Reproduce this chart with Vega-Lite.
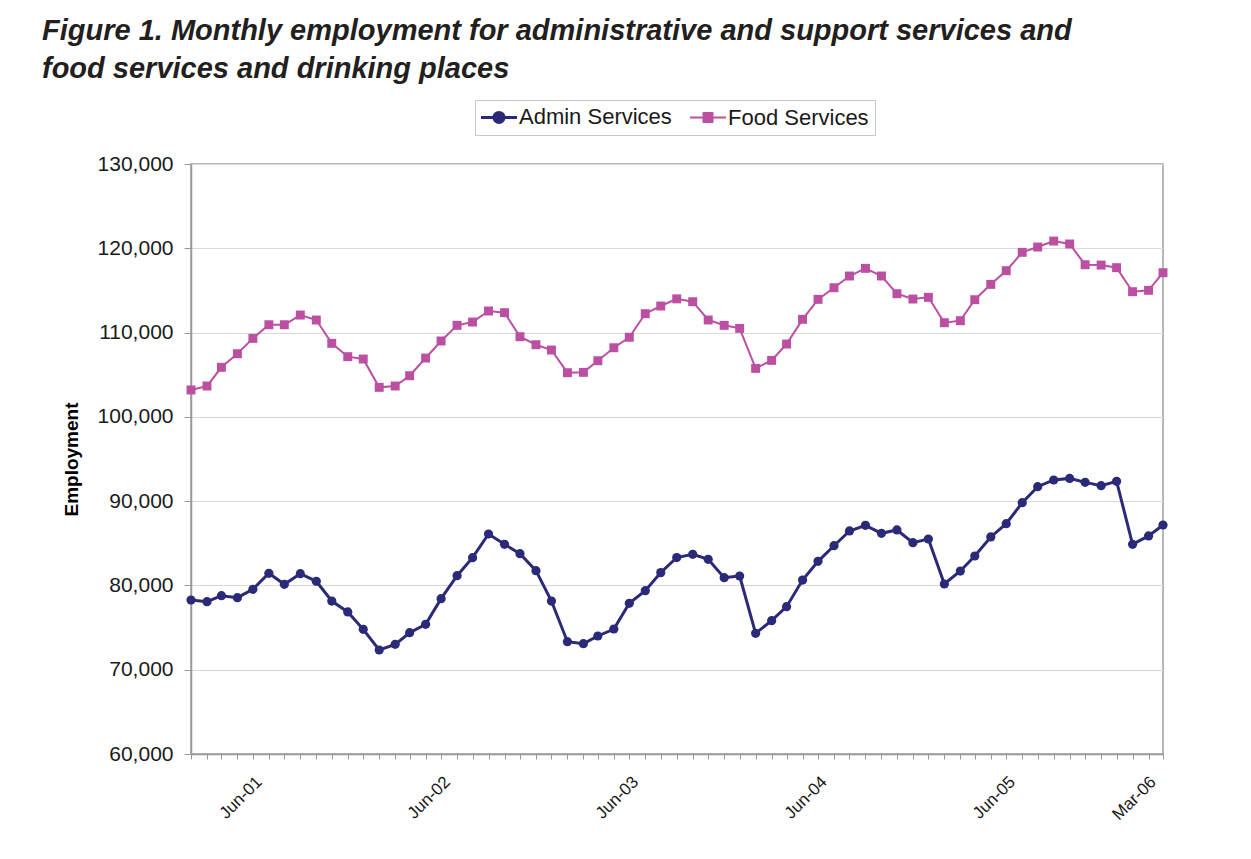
{
  "$schema": "https://vega.github.io/schema/vega-lite/v6.json",
  "width": 972,
  "height": 590,
  "autosize": {"type": "none"},
  "padding": {"left": 191, "top": 164, "right": 88, "bottom": 105},
  "background": "white",
  "title": {
    "text": ["Figure 1. Monthly employment for administrative and support services and", "food services and drinking places"],
    "anchor": "start", "frame": "group", "dx": -149, "offset": 16,
    "font": "Liberation Sans", "fontSize": 29, "fontStyle": "italic", "fontWeight": "bold",
    "color": "#231f20", "lineHeight": 38
  },
  "datasets": {
    "admin": [
      {"date":"2001-01-01","value":78270},{"date":"2001-02-01","value":78070},{"date":"2001-03-01","value":78780},{"date":"2001-04-01","value":78550},{"date":"2001-05-01","value":79540},{"date":"2001-06-01","value":81440},{"date":"2001-07-01","value":80130},{"date":"2001-08-01","value":81390},{"date":"2001-09-01","value":80490},{"date":"2001-10-01","value":78150},{"date":"2001-11-01","value":76850},{"date":"2001-12-01","value":74790},
      {"date":"2002-01-01","value":72340},{"date":"2002-02-01","value":73010},{"date":"2002-03-01","value":74390},{"date":"2002-04-01","value":75390},{"date":"2002-05-01","value":78430},{"date":"2002-06-01","value":81160},{"date":"2002-07-01","value":83290},{"date":"2002-08-01","value":86100},{"date":"2002-09-01","value":84880},{"date":"2002-10-01","value":83770},{"date":"2002-11-01","value":81750},{"date":"2002-12-01","value":78150},
      {"date":"2003-01-01","value":73320},{"date":"2003-02-01","value":73090},{"date":"2003-03-01","value":74000},{"date":"2003-04-01","value":74830},{"date":"2003-05-01","value":77880},{"date":"2003-06-01","value":79380},{"date":"2003-07-01","value":81520},{"date":"2003-08-01","value":83310},{"date":"2003-09-01","value":83690},{"date":"2003-10-01","value":83100},{"date":"2003-11-01","value":80920},{"date":"2003-12-01","value":81120},
      {"date":"2004-01-01","value":74320},{"date":"2004-02-01","value":75820},{"date":"2004-03-01","value":77480},{"date":"2004-04-01","value":80640},{"date":"2004-05-01","value":82860},{"date":"2004-06-01","value":84710},{"date":"2004-07-01","value":86460},{"date":"2004-08-01","value":87130},{"date":"2004-09-01","value":86180},{"date":"2004-10-01","value":86580},{"date":"2004-11-01","value":85070},{"date":"2004-12-01","value":85510},
      {"date":"2005-01-01","value":80170},{"date":"2005-02-01","value":81710},{"date":"2005-03-01","value":83490},{"date":"2005-04-01","value":85750},{"date":"2005-05-01","value":87320},{"date":"2005-06-01","value":89820},{"date":"2005-07-01","value":91710},{"date":"2005-08-01","value":92510},{"date":"2005-09-01","value":92700},{"date":"2005-10-01","value":92230},{"date":"2005-11-01","value":91830},{"date":"2005-12-01","value":92350},
      {"date":"2006-01-01","value":84880},{"date":"2006-02-01","value":85870},{"date":"2006-03-01","value":87170}
    ],
    "food": [
      {"date":"2001-01-01","value":103190},{"date":"2001-02-01","value":103660},{"date":"2001-03-01","value":105880},{"date":"2001-04-01","value":107490},{"date":"2001-05-01","value":109310},{"date":"2001-06-01","value":110930},{"date":"2001-07-01","value":110930},{"date":"2001-08-01","value":112080},{"date":"2001-09-01","value":111490},{"date":"2001-10-01","value":108720},{"date":"2001-11-01","value":107140},{"date":"2001-12-01","value":106860},
      {"date":"2002-01-01","value":103500},{"date":"2002-02-01","value":103660},{"date":"2002-03-01","value":104880},{"date":"2002-04-01","value":106980},{"date":"2002-05-01","value":109000},{"date":"2002-06-01","value":110860},{"date":"2002-07-01","value":111250},{"date":"2002-08-01","value":112560},{"date":"2002-09-01","value":112360},{"date":"2002-10-01","value":109510},{"date":"2002-11-01","value":108560},{"date":"2002-12-01","value":107930},
      {"date":"2003-01-01","value":105240},{"date":"2003-02-01","value":105280},{"date":"2003-03-01","value":106660},{"date":"2003-04-01","value":108200},{"date":"2003-05-01","value":109440},{"date":"2003-06-01","value":112240},{"date":"2003-07-01","value":113150},{"date":"2003-08-01","value":114000},{"date":"2003-09-01","value":113660},{"date":"2003-10-01","value":111490},{"date":"2003-11-01","value":110860},{"date":"2003-12-01","value":110500},
      {"date":"2004-01-01","value":105750},{"date":"2004-02-01","value":106700},{"date":"2004-03-01","value":108640},{"date":"2004-04-01","value":111570},{"date":"2004-05-01","value":113940},{"date":"2004-06-01","value":115320},{"date":"2004-07-01","value":116710},{"date":"2004-08-01","value":117620},{"date":"2004-09-01","value":116710},{"date":"2004-10-01","value":114610},{"date":"2004-11-01","value":113980},{"date":"2004-12-01","value":114180},
      {"date":"2005-01-01","value":111170},{"date":"2005-02-01","value":111410},{"date":"2005-03-01","value":113900},{"date":"2005-04-01","value":115720},{"date":"2005-05-01","value":117340},{"date":"2005-06-01","value":119520},{"date":"2005-07-01","value":120150},{"date":"2005-08-01","value":120860},{"date":"2005-09-01","value":120510},{"date":"2005-10-01","value":118050},{"date":"2005-11-01","value":118010},{"date":"2005-12-01","value":117700},
      {"date":"2006-01-01","value":114850},{"date":"2006-02-01","value":115010},{"date":"2006-03-01","value":117100}
    ]
  },
  "encoding": {
    "x": {
      "field": "date", "type": "temporal",
      "scale": {"type": "utc", "domain": [{"year": 2001, "month": 1, "date": 1, "utc": true}, {"year": 2006, "month": 3, "date": 1, "utc": true}]},
      "axis": {
        "title": null, "grid": false,
        "tickCount": {"interval": "month", "step": 1},
        "labelExpr": "(utcmonth(datum.value) == 5 || (utcyear(datum.value) == 2006 && utcmonth(datum.value) == 2)) ? utcFormat(datum.value, '%b-%y') : ''",
        "labelAngle": -45, "labelAlign": "right", "labelBaseline": "middle",
        "labelFont": "Liberation Sans", "labelFontSize": 17, "labelColor": "#1a1a1a",
        "labelPadding": 20, "labelOffset": -10, "labelOverlap": false, "labelBound": false, "labelFlush": false,
        "tickSize": 5, "tickColor": "#999999", "domainColor": "#999999", "domainWidth": 1.5
      }
    },
    "y": {
      "field": "value", "type": "quantitative",
      "scale": {"domain": [60000, 130000], "zero": false, "nice": false},
      "axis": {
        "title": "Employment", "titleFont": "Liberation Sans", "titleFontSize": 19, "titleFontWeight": "bold", "titleColor": "#000000", "titlePadding": 16,
        "values": [60000, 70000, 80000, 90000, 100000, 110000, 120000, 130000],
        "format": ",.0f", "labelFont": "Liberation Sans", "labelFontSize": 21, "labelColor": "#1a1a1a", "labelPadding": 11,
        "tickSize": 7, "tickColor": "#999999", "domainColor": "#999999", "domainWidth": 1.5,
        "grid": true, "gridColor": "#d9d9d9", "gridWidth": 1.2
      }
    },
    "color": {
      "field": "series", "type": "nominal",
      "scale": {"domain": ["Admin Services", "Food Services"], "range": ["#2a2a78", "#bb4fa2"]},
      "legend": {
        "title": null, "orient": "none", "legendX": 284, "legendY": -64, "direction": "horizontal",
        "strokeColor": "#c8c8c8", "padding": 6,
        "labelFont": "Liberation Sans", "labelFontSize": 22, "labelColor": "#1a1a1a", "labelOffset": 9,
        "symbolSize": 1296, "symbolOffset": 7, "columnPadding": 14,
        "encode": {
          "symbols": {
            "update": {
              "shape": {"signal": "datum.value === 'Admin Services' ? 'M-1,0L1,0M-0.28,0A0.28,0.28 0 1 0 0.28,0A0.28,0.28 0 1 0 -0.28,0Z' : 'M-1,0L1,0M-0.25,-0.25L0.25,-0.25L0.25,0.25L-0.25,0.25Z'"},
              "fill": {"signal": "datum.value === 'Admin Services' ? '#2a2a78' : '#bb4fa2'"},
              "stroke": {"signal": "datum.value === 'Admin Services' ? '#2a2a78' : '#bb4fa2'"},
              "strokeWidth": {"signal": "datum.value === 'Admin Services' ? 3 : 2"},
              "opacity": {"value": 1}
            }
          }
        }
      }
    }
  },
  "layer": [
    {
      "data": {"name": "admin"},
      "transform": [{"calculate": "'Admin Services'", "as": "series"}],
      "layer": [
        {"mark": {"type": "line", "strokeWidth": 3}, "encoding": {}},
        {"mark": {"type": "point", "filled": true, "opacity": 1, "size": 85, "shape": "circle"}, "encoding": {}}
      ]
    },
    {
      "data": {"name": "food"},
      "transform": [{"calculate": "'Food Services'", "as": "series"}],
      "layer": [
        {"mark": {"type": "line", "strokeWidth": 2}, "encoding": {}},
        {"mark": {"type": "point", "filled": true, "opacity": 1, "size": 80, "shape": "square"}, "encoding": {}}
      ]
    }
  ],
  "config": {
    "view": {"stroke": "#a0a0a0", "strokeWidth": 1.5},
    "font": "Liberation Sans"
  }
}
